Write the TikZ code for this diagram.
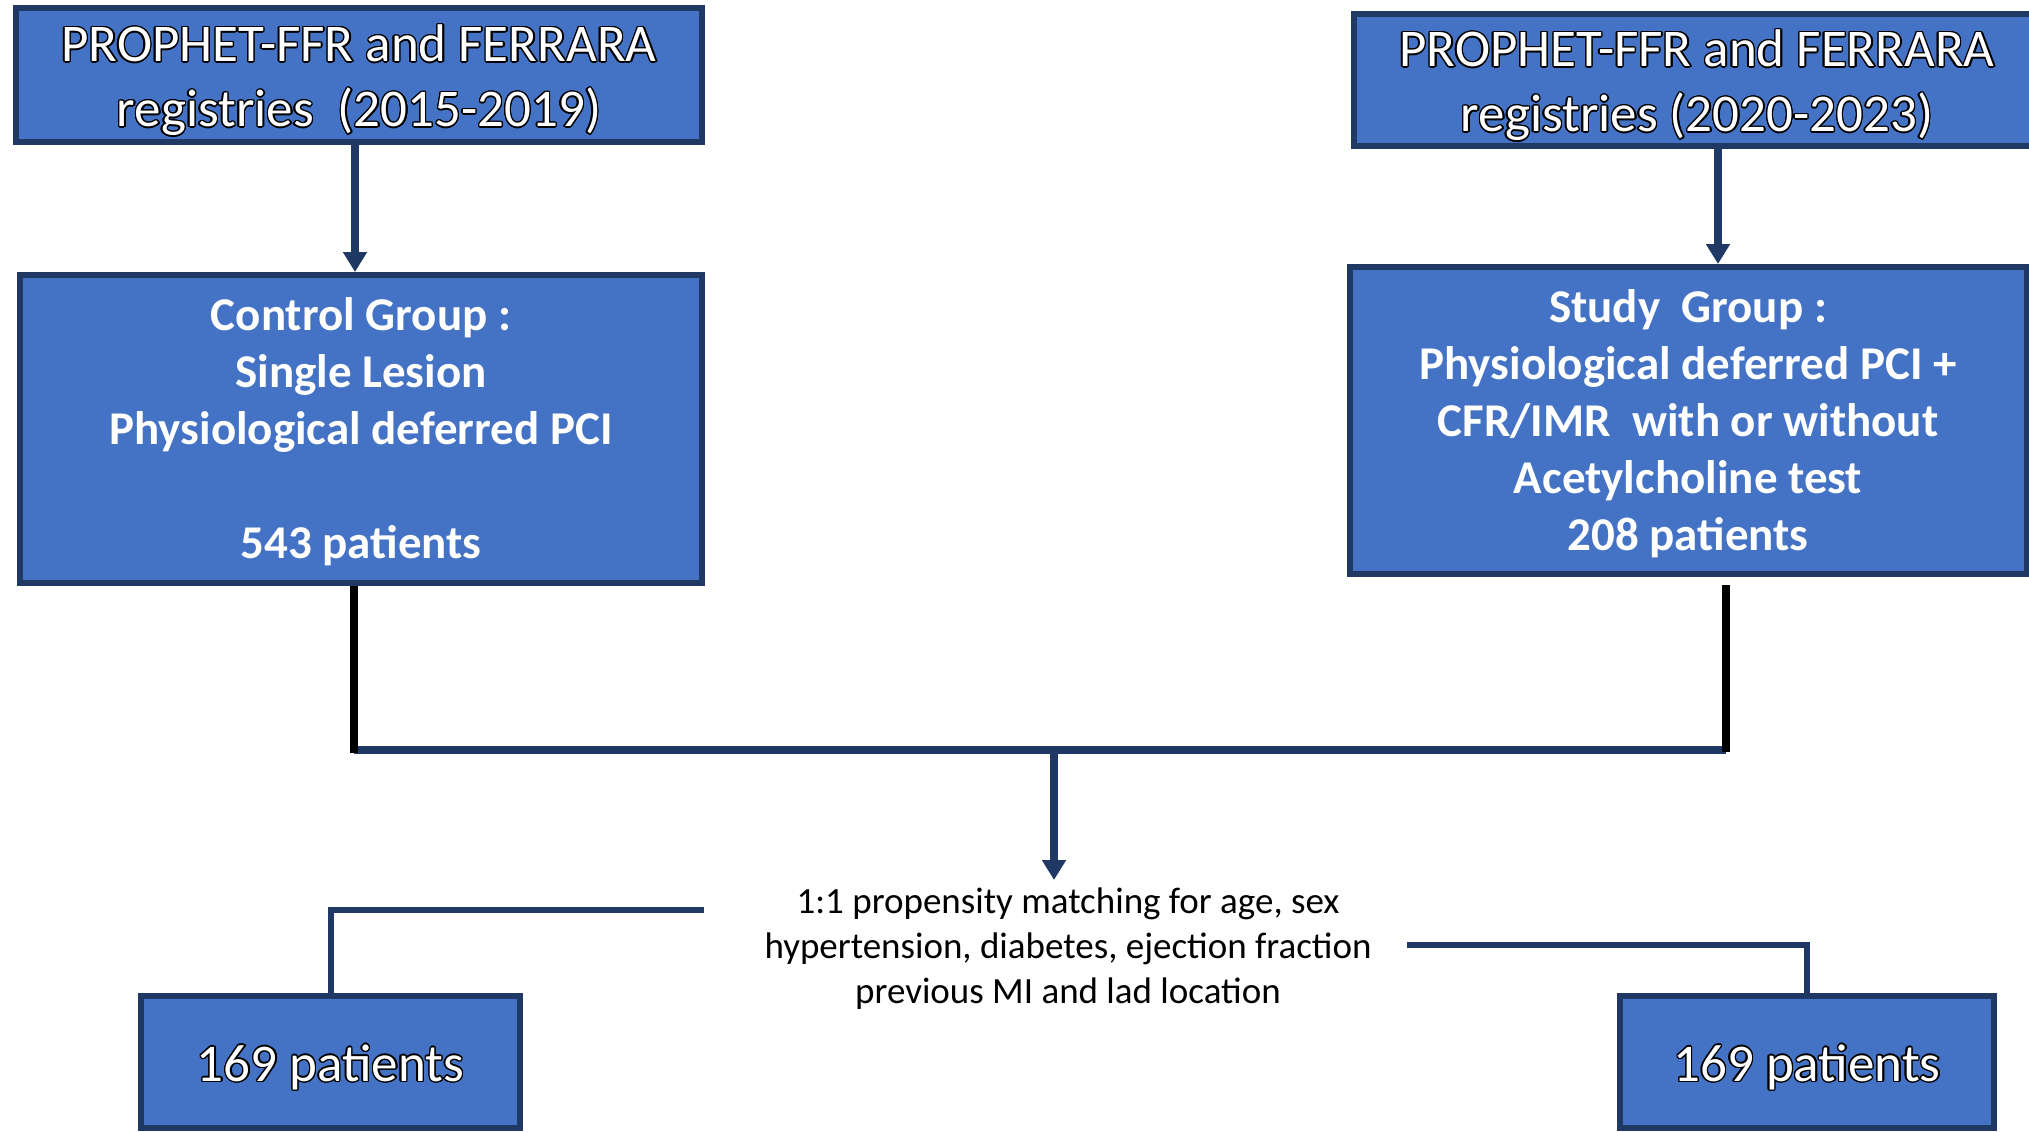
\documentclass[tikz,border=0pt]{standalone}
\usepackage{fontspec}
\setmainfont{Carlito}
\usepackage{contour}
\contourlength{0.7pt}
\usetikzlibrary{arrows.meta,calc}
\definecolor{boxblue}{HTML}{4472C4}
\definecolor{navy}{HTML}{203864}
% white lettering with a thin black outline
\newcommand{\olt}[1]{\contour{black}{#1}}

\begin{document}
\begin{tikzpicture}[x=0.5pt,y=-0.5pt,
  box/.style={draw=navy, line width=3pt, fill=boxblue, inner sep=0pt},
  txt/.style={inner sep=0pt, align=center, text=white},
  regfont/.style={font=\fontsize{26.5}{32.5}\selectfont},
  boldfont/.style={font=\fontsize{23.5}{28.5}\selectfont\bfseries},
  link/.style={draw=navy, line width=3pt},
  bus/.style={draw=navy, line width=3.75pt},
  feed/.style={draw=navy, line width=3.75pt, -{Triangle[width=11.5pt,length=10pt]}},
  stem/.style={draw=black, line width=4pt},
]
\useasboundingbox (0,0) rectangle (2029,1131);

% registries
\node[box, minimum width=343pt, minimum height=67pt] (A) at (359,75) {};
\node[txt, regfont] (At) at ($(A.center)+(0,6)$)
  {\olt{PROPHET-FFR and FERRARA}\\\olt{registries\ \ (2015-2019)}};
\node[box, minimum width=343pt, minimum height=66pt] (C) at (1697,80) {};
\node[txt, regfont] (Ct) at ($(C.center)+(0,6)$)
  {\olt{PROPHET-FFR and FERRARA}\\\olt{registries (2020-2023)}};

% groups
\node[box, minimum width=341pt, minimum height=154pt] (B) at (361,429) {};
\node[txt, boldfont] (Bt) at ($(B.center)+(0,3)$)
  {Control Group :\\Single Lesion\\Physiological deferred PCI\\[28.5pt]543 patients};
\node[box, minimum width=338.5pt, minimum height=153.5pt] (D) at (1688,420.5) {};
\node[txt, boldfont] (Dt) at ($(D.center)+(0,3)$)
  {Study\ \ Group :\\Physiological deferred PCI +\\CFR/IMR\ \ with or without\\Acetylcholine test\\208 patients};

% matching criteria
\node[inner sep=0pt, align=center, font=\fontsize{18.5}{22.5}\selectfont] (M) at (1068,949)
  {1:1 propensity matching for age, sex\\hypertension, diabetes, ejection fraction\\previous MI and lad location};

% matched cohorts
\node[box, minimum width=189.5pt, minimum height=66pt] (E) at (330.5,1062) {};
\node[txt, regfont] (Et) at ($(E.center)+(0,6)$) {\olt{169 patients}};
\node[box, minimum width=187pt, minimum height=66pt] (F) at (1807,1062) {};
\node[txt, regfont] (Ft) at ($(F.center)+(0,6)$) {\olt{169 patients}};

% routing points
\coordinate (ax) at (355,0);
\coordinate (cx) at (1718,0);
\coordinate (jl) at (354,750);
\coordinate (jr) at (1726,750);
\coordinate (jm) at (1054,750);
\coordinate (dstub) at (1726,585);
\coordinate (ml) at (704,910);
\coordinate (mr) at (1407,945);
\coordinate (mtip) at (1054,880);

% registry to group
\draw[feed] (A.south -| ax) -- (B.north -| ax);
\draw[feed] (C.south -| cx) -- (D.north -| cx);

% merge of both groups
\draw[bus] (jl) -- (jr);
\draw[stem] (B.south -| jl) -- ([yshift=-1.5pt]jl);
\draw[stem] (dstub) -- ([yshift=-1pt]jr);
\draw[feed] (jm) -- (mtip);

% split into matched cohorts
\draw[link] (ml) -| (E.north);
\draw[link] (mr) -| (F.north);
\end{tikzpicture}
\end{document}
